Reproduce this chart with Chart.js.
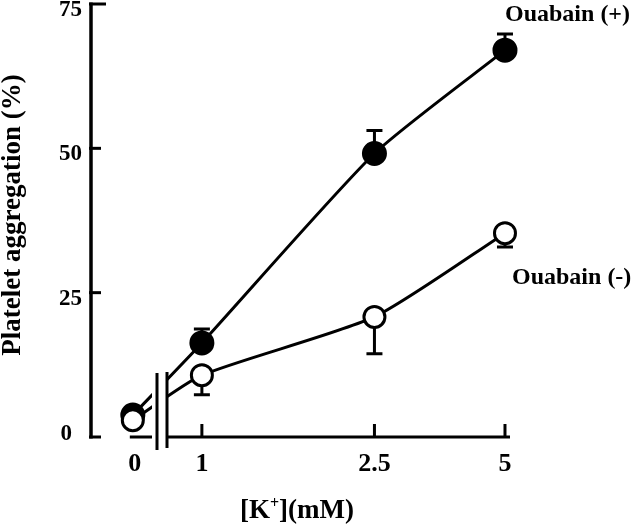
<!DOCTYPE html>
<html>
<head>
<meta charset="utf-8">
<script src="https://cdn.jsdelivr.net/npm/chart.js@4.4.1/dist/chart.umd.min.js"></script>
<style>
  html, body { margin: 0; padding: 0; background: #fff; }
  #wrap { position: relative; width: 640px; height: 525px; }
</style>
</head>
<body>
<div id="wrap"><canvas id="c" width="640" height="525"></canvas></div>
<script>
// ---- data ----
const kLabels = ['0', '1', '2.5', '5'];          // [K+] (mM) tick labels
const kValues = [0, 1, 2.5, 5];                  // [K+] (mM)
const ouabainPlusMean  = [3.8, 16.3, 49.1, 67.0];
const ouabainPlusErr   = [0, 2.4, 4.0, 2.8];     // drawn upward
const ouabainMinusMean = [2.9, 10.7, 20.8, 35.3];
const ouabainMinusErr  = [0, 3.4, 6.4, 2.4];     // drawn downward
const yTickValues = [0, 25, 50, 75];

// the 0 mM point sits left of the axis break on the log axis
const ZERO_STANDIN = 0.693;
const xOf = k => (k === 0 ? ZERO_STANDIN : k);

const SERIF = '"Liberation Serif", "Times New Roman", serif';

const plusPts  = kValues.map((k, i) => ({ x: xOf(k), y: ouabainPlusMean[i] }));
const minusPts = kValues.map((k, i) => ({ x: xOf(k), y: ouabainMinusMean[i] }));

const figPlugin = {
  id: 'fig',
  beforeDatasetsDraw(chart) {
    const { ctx, scales: { x, y } } = chart;
    ctx.save();
    ctx.strokeStyle = '#000';
    ctx.lineCap = 'butt';
    // y axis
    const yAxisX = 91;
    ctx.lineWidth = 3.5;
    ctx.beginPath();
    ctx.moveTo(yAxisX, y.getPixelForValue(75) - 1.5);
    ctx.lineTo(yAxisX, y.getPixelForValue(0) + 1.5);
    ctx.stroke();
    ctx.lineWidth = 3;
    yTickValues.forEach(v => {
      const py = y.getPixelForValue(v);
      const len = v === 75 ? 15 : 10;
      ctx.beginPath();
      ctx.moveTo(yAxisX - 2, py);
      ctx.lineTo(yAxisX + len, py);
      ctx.stroke();
    });
    // x axis
    const py0 = y.getPixelForValue(0);
    ctx.beginPath();
    ctx.moveTo(x.getPixelForValue(xOf(0)) - 3, py0);
    ctx.lineTo(x.right, py0);
    ctx.stroke();
    kValues.forEach(k => {
      if (k === 0) return;
      const px = x.getPixelForValue(xOf(k));
      ctx.beginPath();
      ctx.moveTo(px, py0);
      ctx.lineTo(px, py0 - 13);
      ctx.stroke();
    });
    // error bars
    const drawErr = (means, errs, dir) => {
      kValues.forEach((k, i) => {
        if (!errs[i]) return;
        const px = x.getPixelForValue(xOf(k));
        const a = y.getPixelForValue(means[i]);
        const b = y.getPixelForValue(means[i] + dir * errs[i]);
        ctx.beginPath();
        ctx.moveTo(px, a);
        ctx.lineTo(px, b);
        ctx.moveTo(px - 8, b);
        ctx.lineTo(px + 8, b);
        ctx.stroke();
      });
    };
    drawErr(ouabainPlusMean, ouabainPlusErr, 1);
    drawErr(ouabainMinusMean, ouabainMinusErr, -1);
    ctx.restore();
  },
  afterDatasetsDraw(chart) {
    const { ctx, scales: { x, y } } = chart;
    ctx.save();
    // axis break
    ctx.fillStyle = '#fff';
    ctx.fillRect(152, 365, 14, 90);
    ctx.strokeStyle = '#000';
    ctx.lineWidth = 3;
    ctx.beginPath();
    ctx.moveTo(157, 373); ctx.lineTo(157, 450);
    ctx.moveTo(167, 372); ctx.lineTo(167, 448);
    ctx.stroke();

    ctx.fillStyle = '#000';
    // y tick labels
    ctx.font = 'bold 23px ' + SERIF;
    ctx.textAlign = 'right';
    ctx.textBaseline = 'middle';
    yTickValues.forEach(v => {
      const py = y.getPixelForValue(v);
      const rx = v === 0 ? 72 : 82;
      ctx.fillText(String(v), rx, py + (v === 0 ? -3 : 6));
    });
    // x tick labels
    ctx.font = 'bold 26px ' + SERIF;
    ctx.textAlign = 'center';
    kValues.forEach((k, i) => {
      const px = x.getPixelForValue(xOf(k));
      ctx.fillText(kLabels[i], px + (k === 0 ? 2 : 0), 464);
    });
    // y title
    ctx.save();
    ctx.translate(13, 215);
    ctx.rotate(-Math.PI / 2);
    ctx.font = 'bold 27px ' + SERIF;
    ctx.textAlign = 'center';
    ctx.textBaseline = 'middle';
    ctx.fillText('Platelet aggregation (%)', 0, 0);
    ctx.restore();
    // x title  [K+](mM)
    ctx.textBaseline = 'alphabetic';
    ctx.textAlign = 'left';
    const big = 'bold 27px ' + SERIF, small = 'bold 16px ' + SERIF;
    const parts = [['[K', big, 0], ['+', small, -10], ['](mM)', big, 0]];
    let total = 0;
    parts.forEach(p => { ctx.font = p[1]; total += ctx.measureText(p[0]).width; });
    let cx = 297 - total / 2;
    parts.forEach(p => {
      ctx.font = p[1];
      ctx.fillText(p[0], cx, 518 + p[2]);
      cx += ctx.measureText(p[0]).width;
    });
    // series labels
    ctx.font = 'bold 24px ' + SERIF;
    ctx.textBaseline = 'middle';
    ctx.textAlign = 'left';
    ctx.fillText('Ouabain (+)', 505, 15);
    ctx.fillText('Ouabain (-)', 512, 278);
    ctx.restore();
  }
};

new Chart(document.getElementById('c'), {
  type: 'line',
  data: {
    datasets: [
      {
        label: 'Ouabain (+)',
        data: plusPts,
        order: 2,
        borderColor: '#000',
        borderWidth: 3,
        tension: 0.2,
        pointRadius: 11,
        pointBorderWidth: 3,
        pointBackgroundColor: '#000',
        pointBorderColor: '#000',
        clip: false
      },
      {
        label: 'Ouabain (-)',
        data: minusPts,
        order: 1,
        borderColor: '#000',
        borderWidth: 3,
        tension: 0.2,
        pointRadius: 10.5,
        pointBorderWidth: 3,
        pointBackgroundColor: '#fff',
        pointBorderColor: '#000',
        clip: false
      }
    ]
  },
  options: {
    responsive: false,
    animation: false,
    events: [],
    layout: { autoPadding: false, padding: { left: 91, right: 130, top: 4, bottom: 88 } },
    plugins: { legend: { display: false }, tooltip: { enabled: false } },
    scales: {
      x: { type: 'logarithmic', min: 0.555, max: 5.135, display: false },
      y: { type: 'linear', min: 0, max: 75, display: false }
    }
  },
  plugins: [figPlugin]
});
</script>
</body>
</html>
